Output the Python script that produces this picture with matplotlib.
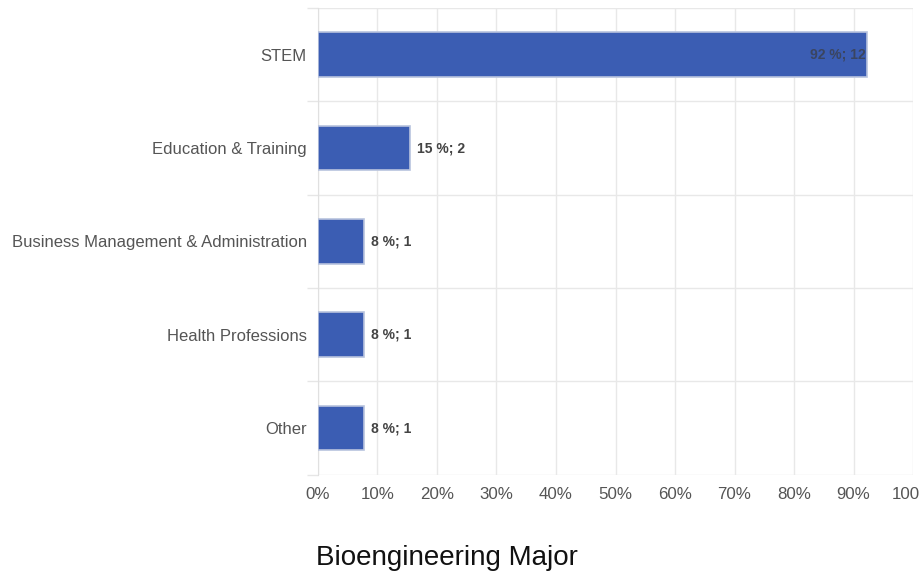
import matplotlib.pyplot as plt
import numpy as np

categories = ['STEM', 'Education & Training', 'Business Management & Administration',
              'Health Professions', 'Other']
percents = [92.3, 15.4, 7.7, 7.7, 7.7]
counts = [12, 2, 1, 1, 1]
value_labels = ['92 %; 12', '15 %; 2', '8 %; 1', '8 %; 1', '8 %; 1']
x_ticks = list(range(0, 101, 10))

plt.rcParams['font.family'] = ['Liberation Sans', 'DejaVu Sans']

fig = plt.figure(figsize=(9.19, 5.72), dpi=100)
ax = fig.add_axes([0.346, 0.170, 0.6475, 0.816])

y = np.arange(len(categories))
ax.barh(y, percents, height=0.48, color='#3b5db3', edgecolor='#b8c3de',
        linewidth=1.2, zorder=3)

for i, (p, lab) in enumerate(zip(percents, value_labels)):
    if p > 50:
        ax.text(p - 0.2, i, lab, ha='right', va='center', fontsize=10,
                fontweight='bold', color='#3a4560', zorder=4)
    else:
        ax.text(p + 1.2, i, lab, ha='left', va='center', fontsize=10,
                fontweight='bold', color='#444444', zorder=4)

ax.set_xlim(0, 100)
ax.set_ylim(len(categories) - 0.5, -0.5)
ax.set_xticks(x_ticks)
ax.set_xticklabels([f'{t}%' for t in x_ticks])
ax.set_yticks(y)
ax.set_yticklabels(categories)
ax.set_yticks(np.arange(-0.5, len(categories), 1.0), minor=True)

ax.tick_params(axis='x', length=0, pad=9, labelsize=12.2, labelcolor='#555555')
ax.tick_params(axis='y', which='major', length=0, pad=8, labelsize=12,
               labelcolor='#555555')
ax.tick_params(axis='y', which='minor', length=8, color='#e6e6e6', width=1)

ax.grid(axis='x', which='major', color='#e8e8e8', linewidth=1, zorder=0)
ax.grid(axis='y', which='minor', color='#e8e8e8', linewidth=1, zorder=0)
for s in ['top', 'right', 'bottom']:
    ax.spines[s].set_visible(False)
ax.spines['left'].set_color('#e0e0e0')

fig.text(0.486, 0.0245, 'Bioengineering Major', ha='center', va='center',
         fontsize=20, color='#111111')

fig.savefig('out.png', dpi=100)
